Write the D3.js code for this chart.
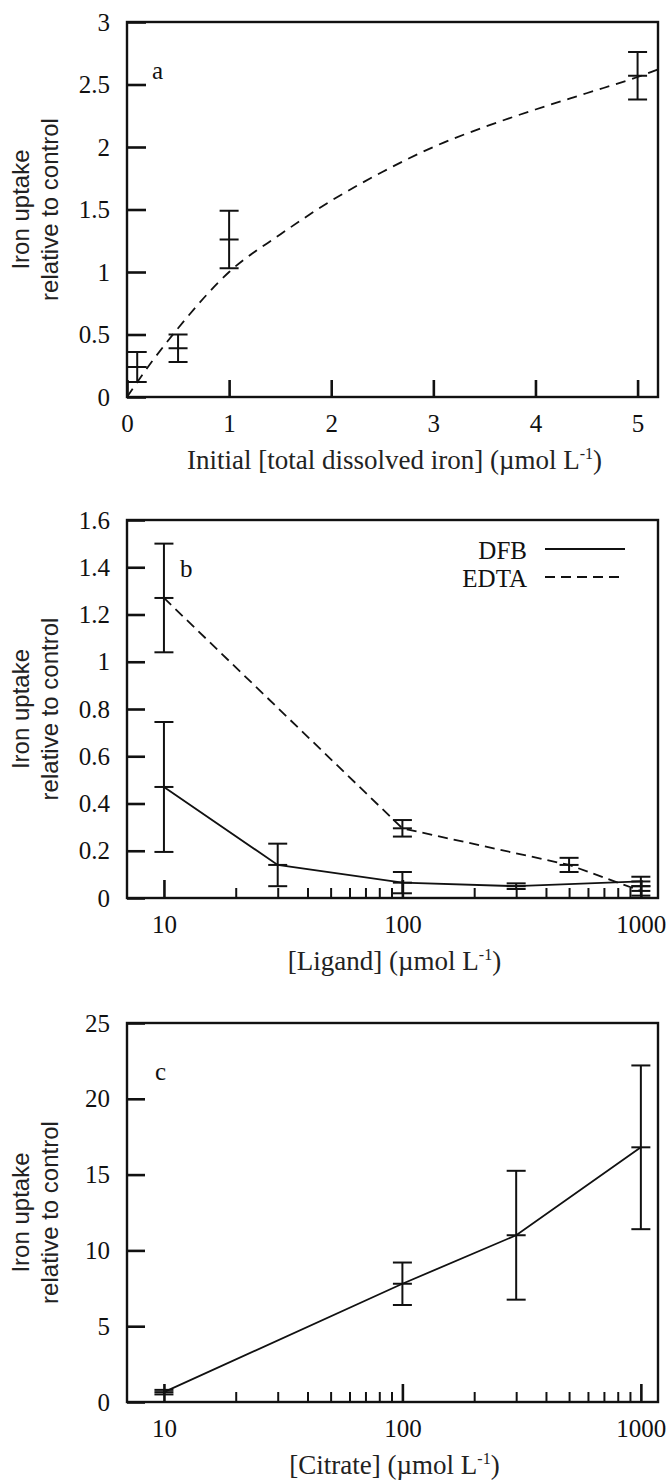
<!DOCTYPE html>
<html>
<head>
<meta charset="utf-8">
<script src="https://cdn.jsdelivr.net/npm/d3@7"></script>
<style>
  body { margin: 0; background: #fff; }
  svg { display: block; }
</style>
</head>
<body>
<div id="chart"></div>
<script>
// panel a: uptake vs initial dissolved iron
const ironConc = [0.1, 0.5, 1, 5];
const ironUptake = [0.24, 0.39, 1.26, 2.57];
const ironErr = [0.12, 0.11, 0.23, 0.19];
// dashed fit curve
const fitConc = [0, 0.25, 0.5, 1, 1.5, 2, 2.5, 3, 3.5, 4, 4.5, 5, 5.2];
const fitUptake = [0, 0.29, 0.55, 1.0, 1.3, 1.57, 1.8, 2.0, 2.16, 2.3, 2.43, 2.56, 2.62];

// panel b: ligands
const dfbConc = [10, 30, 100, 300, 1000];
const dfbUptake = [0.47, 0.14, 0.065, 0.05, 0.07];
const dfbErr = [0.275, 0.09, 0.045, 0.012, 0.02];
const edtaConc = [10, 100, 500, 1000];
const edtaUptake = [1.27, 0.295, 0.14, 0.03];
const edtaErr = [0.23, 0.035, 0.03, 0.02];

// panel c: citrate
const citrateConc = [10, 100, 300, 1000];
const citrateUptake = [0.65, 7.8, 11.0, 16.8];
const citrateErr = [0.15, 1.4, 4.25, 5.4];

// ticks
const aXTicks = [0, 1, 2, 3, 4, 5];
const aYTicks = [0, 0.5, 1, 1.5, 2, 2.5, 3];
const bYTicks = [0, 0.2, 0.4, 0.6, 0.8, 1, 1.2, 1.4, 1.6];
const cYTicks = [0, 5, 10, 15, 20, 25];
const logMajor = [10, 100, 1000];
const logMinor = [20, 30, 40, 50, 60, 70, 80, 90, 200, 300, 400, 500, 600, 700, 800, 900];

const SERIF = "'Liberation Serif','Times New Roman',serif";
const SANS = "'Liberation Sans',Arial,sans-serif";
const W = 670, H = 1481;
const left = 127, right = 658;

const svg = d3.select("#chart").append("svg")
    .attr("width", W)
    .attr("height", H);

// shared bits for each panel
function frame(top, bottom) {
    svg.append("rect")
        .attr("x", left).attr("y", top)
        .attr("width", right - left).attr("height", bottom - top)
        .attr("fill", "none").attr("stroke", "#111").attr("stroke-width", 2.4);
}

function yAxis(y, ticks, len) {
    const g = svg.append("g")
        .attr("transform", `translate(${left},0)`)
        .call(d3.axisLeft(y).tickValues(ticks).tickSize(-len).tickPadding(17)
            .tickFormat(d => String(d)));
    g.select(".domain").remove();
    g.selectAll("line").attr("stroke", "#111").attr("stroke-width", 2.6);
    g.selectAll("text").attr("font-family", SERIF).attr("font-size", 25).attr("fill", "#111");
}

function xAxis(x, bottom, ticks, len, labels) {
    const g = svg.append("g")
        .attr("transform", `translate(0,${bottom})`)
        .call(d3.axisBottom(x).tickValues(ticks).tickSize(-len).tickPadding(17)
            .tickFormat(labels ? (d => String(d)) : ""));
    g.select(".domain").remove();
    g.selectAll("line").attr("stroke", "#111").attr("stroke-width", labels ? 2.6 : 2);
    g.selectAll("text").attr("font-family", SERIF).attr("font-size", 25).attr("fill", "#111");
}

function yTitle(top, bottom) {
    const t = svg.append("text")
        .attr("transform", `translate(29,${(top + bottom) / 2}) rotate(-90)`)
        .attr("text-anchor", "middle")
        .attr("font-family", SANS).attr("font-size", 24).attr("fill", "#222");
    t.append("tspan").attr("x", 0).attr("y", 0).text("Iron uptake");
    t.append("tspan").attr("x", 0).attr("y", 29).text("relative to control");
}

function xTitle(bottom, label) {
    const t = svg.append("text")
        .attr("x", (left + right) / 2 + 2)
        .attr("y", bottom + 72)
        .attr("text-anchor", "middle")
        .attr("font-family", SERIF).attr("font-size", 27).attr("fill", "#222");
    t.append("tspan").text(label + " (\u00b5mol L");
    t.append("tspan").attr("dy", -10).attr("font-size", 16).text("-1");
    t.append("tspan").attr("dy", 10).text(")");
}

function panelLetter(x, y, s) {
    svg.append("text").attr("x", x).attr("y", y)
        .attr("font-family", SERIF).attr("font-size", 25).attr("fill", "#111")
        .text(s);
}

function errorBars(x, y, xs, ys, es) {
    const half = 9.5;
    const g = svg.append("g").attr("stroke", "#111").attr("stroke-width", 2).attr("fill", "none");
    xs.forEach((v, i) => {
        const cx = x(v);
        const lo = y(ys[i] - es[i]), hi = y(ys[i] + es[i]), mid = y(ys[i]);
        g.append("line").attr("x1", cx).attr("x2", cx).attr("y1", lo).attr("y2", hi);
        [lo, mid, hi].forEach(yy => {
            g.append("line").attr("x1", cx - half).attr("x2", cx + half).attr("y1", yy).attr("y2", yy);
        });
    });
}

function seriesLine(x, y, xs, ys, dash, curve) {
    const line = d3.line()
        .x(d => x(d[0]))
        .y(d => y(d[1]))
        .curve(curve || d3.curveLinear);
    svg.append("path")
        .datum(xs.map((v, i) => [v, ys[i]]))
        .attr("d", line)
        .attr("fill", "none")
        .attr("stroke", "#111")
        .attr("stroke-width", 1.8)
        .attr("stroke-dasharray", dash || null);
}

// ---------- panel a ----------
{
    const top = 22, bottom = 397;
    const x = d3.scaleLinear().domain([0, 5.2]).range([left, right]);
    const y = d3.scaleLinear().domain([0, 3]).range([bottom, top]);
    seriesLine(x, y, fitConc, fitUptake, "10,7", d3.curveMonotoneX);
    errorBars(x, y, ironConc, ironUptake, ironErr);
    frame(top, bottom);
    yAxis(y, aYTicks, 19);
    xAxis(x, bottom, aXTicks, 17, true);
    yTitle(top, bottom);
    xTitle(bottom, "Initial [total dissolved iron]");
    panelLetter(152, 79, "a");
}

// ---------- panel b ----------
{
    const top = 520, bottom = 898;
    const x = d3.scaleLog().domain([7, 1180]).range([left, right]);
    const y = d3.scaleLinear().domain([0, 1.6]).range([bottom, top]);
    seriesLine(x, y, edtaConc, edtaUptake, "10,6");
    seriesLine(x, y, dfbConc, dfbUptake);
    errorBars(x, y, edtaConc, edtaUptake, edtaErr);
    errorBars(x, y, dfbConc, dfbUptake, dfbErr);
    frame(top, bottom);
    yAxis(y, bYTicks, 18);
    xAxis(x, bottom, logMinor, 10, false);
    xAxis(x, bottom, logMajor, 18, true);
    yTitle(top, bottom);
    xTitle(bottom, "[Ligand]");
    panelLetter(180, 577, "b");

    // legend
    const legend = [["DFB", null, 549], ["EDTA", "10,6", 577]];
    legend.forEach(([name, dash, ly]) => {
        svg.append("text").attr("x", 527).attr("y", ly + 10)
            .attr("text-anchor", "end")
            .attr("font-family", SERIF).attr("font-size", 25).attr("fill", "#111")
            .text(name);
        svg.append("line").attr("x1", 545).attr("x2", 625).attr("y1", ly).attr("y2", ly)
            .attr("stroke", "#111").attr("stroke-width", 1.8)
            .attr("stroke-dasharray", dash);
    });
}

// ---------- panel c ----------
{
    const top = 1023, bottom = 1402;
    const x = d3.scaleLog().domain([7, 1180]).range([left, right]);
    const y = d3.scaleLinear().domain([0, 25]).range([bottom, top]);
    seriesLine(x, y, citrateConc, citrateUptake);
    errorBars(x, y, citrateConc, citrateUptake, citrateErr);
    frame(top, bottom);
    yAxis(y, cYTicks, 18);
    xAxis(x, bottom, logMinor, 10, false);
    xAxis(x, bottom, logMajor, 18, true);
    yTitle(top, bottom);
    xTitle(bottom, "[Citrate]");
    panelLetter(155, 1080, "c");
}
</script>
</body>
</html>
